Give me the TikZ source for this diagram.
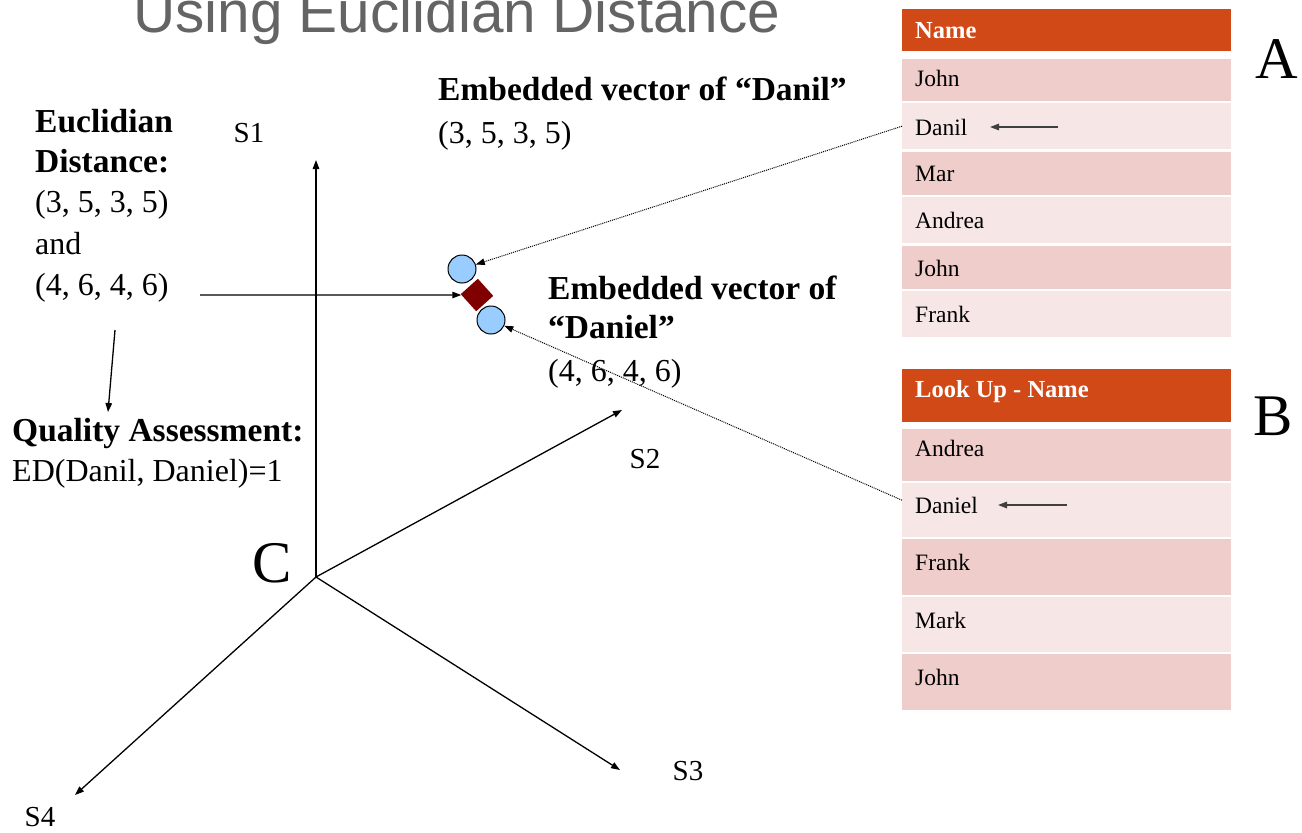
\documentclass[tikz,border=0pt]{standalone}
\usepackage{fontspec}
\setmainfont{Liberation Serif}
\newfontfamily\titlefont{Liberation Sans}
\usetikzlibrary{arrows.meta}
\definecolor{hdr}{RGB}{209,73,23}
\definecolor{rowd}{RGB}{239,205,202}
\definecolor{rowl}{RGB}{246,230,229}
\definecolor{dotblue}{RGB}{153,204,255}
\definecolor{darkred}{RGB}{128,0,0}
\definecolor{titlegrey}{RGB}{100,100,100}
\tikzset{
  arr/.style={-{Triangle[length=9pt,width=6.5pt]}, line width=1.3pt},
  dotarr/.style={-{Triangle[length=9pt,width=6.5pt]}, densely dotted, line width=1pt},
  txt/.style={anchor=base west, inner sep=0pt, font=\fontsize{32}{36}\selectfont},
  btxt/.style={anchor=base west, inner sep=0pt, font=\fontsize{33.5}{36}\selectfont\bfseries},
  cell/.style={anchor=north west, inner sep=0pt, minimum width=329pt},
  hcell/.style={cell, fill=hdr},
  celltxt/.style={anchor=west, inner sep=0pt, font=\fontsize{23.5}{26}\selectfont},
  hdrtxt/.style={anchor=west, inner sep=0pt, text=white, font=\fontsize{24.5}{26}\selectfont\bfseries},
  biglabel/.style={inner sep=0pt, font=\fontsize{59}{60}\selectfont},
  axlabel/.style={inner sep=0pt, font=\fontsize{29}{30}\selectfont},
  dot/.style={circle, draw=black, line width=1pt, fill=dotblue, minimum size=28pt, inner sep=0pt},
}
\begin{document}
\begin{tikzpicture}[x=1pt,y=-1pt]
\useasboundingbox (0,0) rectangle (1302,833);

% title (cropped at top, as in the reference)
\node[anchor=base west, inner sep=0pt, text=titlegrey, font=\titlefont\fontsize{58.5}{60}\selectfont] (title) at (133,32) {Using Euclidian Distance};

% ---------- Table A ----------
\node[hcell, minimum height=42pt] (ah) at (902,9) {};
\node[hdrtxt] (aht) at (915,31) {Name};
\node[cell, fill=rowd, minimum height=42pt] (a1) at (902,59) {};
\node[cell, fill=rowl, minimum height=46pt] (a2) at (902,103) {};
\node[cell, fill=rowd, minimum height=43pt] (a3) at (902,152) {};
\node[cell, fill=rowl, minimum height=46pt] (a4) at (902,197) {};
\node[cell, fill=rowd, minimum height=43pt] (a5) at (902,246) {};
\node[cell, fill=rowl, minimum height=46pt] (a6) at (902,291) {};
\node[celltxt] (a1t) at (915,78) {John};
\node[celltxt] (a2t) at (915,127) {Danil};
\node[celltxt] (a3t) at (915,174) {Mar};
\node[celltxt] (a4t) at (915,220) {Andrea};
\node[celltxt] (a5t) at (915,268) {John};
\node[celltxt] (a6t) at (915,314) {Frank};
\coordinate (aarS) at (1058,127);
\coordinate (aarE) at (990,127);
\draw[arr, line width=1.3pt, draw=black!75] (aarS) -- (aarE);
\node[biglabel] (labA) at (1277,59) {A};

% ---------- Table B ----------
\node[hcell, minimum height=53pt] (bh) at (902,369) {};
\node[hdrtxt] (bht) at (915,392) {Look Up - Name};
\node[cell, fill=rowd, minimum height=52pt] (b1) at (902,429) {};
\node[cell, fill=rowl, minimum height=54pt] (b2) at (902,483) {};
\node[cell, fill=rowd, minimum height=56pt] (b3) at (902,539) {};
\node[cell, fill=rowl, minimum height=55pt] (b4) at (902,597) {};
\node[cell, fill=rowd, minimum height=56pt] (b5) at (902,654) {};
\node[celltxt] (b1t) at (915,448) {Andrea};
\node[celltxt] (b2t) at (915,505) {Daniel};
\node[celltxt] (b3t) at (915,562) {Frank};
\node[celltxt] (b4t) at (915,620) {Mark};
\node[celltxt] (b5t) at (915,677) {John};
\coordinate (barS) at (1067,505);
\coordinate (barE) at (998,505);
\draw[arr, line width=1.3pt, draw=black!75] (barS) -- (barE);
\node[biglabel] (labB) at (1273,416) {B};

% ---------- axes ----------
\coordinate (O) at (316,577);
\coordinate (s1e) at (316,160);
\coordinate (s2e) at (622,410);
\coordinate (s3e) at (620,770);
\coordinate (s4e) at (75,795);
\draw[arr] (O) -- (s1e);
\draw[arr] (O) -- (s2e);
\draw[arr] (O) -- (s3e);
\draw[arr] (O) -- (s4e);
\node[axlabel] (lS1) at (249,133) {S1};
\node[axlabel] (lS2) at (645,459) {S2};
\node[axlabel] (lS3) at (688,771) {S3};
\node[axlabel] (lS4) at (40,817) {S4};
\node[biglabel] (labC) at (272,563) {C};

% ---------- points ----------
\node[dot] (c1) at (462,269) {};
\node[dot] (c2) at (491,320) {};
\node[rectangle, fill=darkred, minimum size=23pt, inner sep=0pt, rotate=42] (dia) at (477,295) {};

% ---------- texts ----------
\node[btxt] (edl1) at (35,132) {Euclidian};
\node[btxt] (edl2) at (35,172) {Distance:};
\node[txt] (edl3) at (35,212) {(3, 5, 3, 5)};
\node[txt] (edl4) at (35,254) {and};
\node[txt] (edl5) at (35,295) {(4, 6, 4, 6)};
\node[btxt] (qa1) at (12,441) {Quality Assessment:};
\node[txt] (qa2) at (12,481) {ED(Danil, Daniel)=1};

\node[btxt] (evd1) at (438,100) {Embedded vector of “Danil”};
\node[txt] (evd2) at (438,143) {(3, 5, 3, 5)};
\node[btxt] (evn1) at (548,299) {Embedded vector of};
\node[btxt] (evn2) at (548,338) {“Daniel”};
\node[txt] (evn3) at (548,381) {(4, 6, 4, 6)};

% ---------- connectors ----------
\coordinate (hS) at (200,295);
\draw[arr] (hS) -- (dia);
\coordinate (qS) at (115,330);
\coordinate (qE) at (108,412);
\draw[arr] (qS) -- (qE);
\draw[dotarr] (a2.west) -- (c1);
\draw[dotarr] ([yshift=10pt]b2.west) -- (c2);
\end{tikzpicture}
\end{document}
